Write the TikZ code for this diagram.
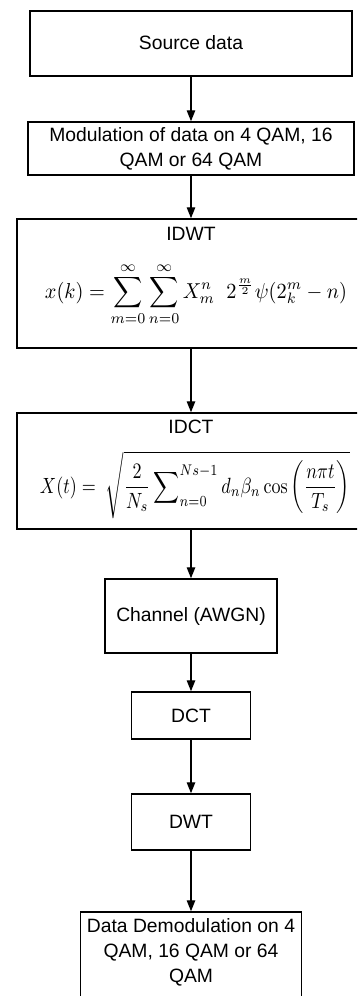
\documentclass[tikz,border=0pt]{standalone}
\usepackage{amsmath}
\usepackage{graphicx}
\usepackage[no-math]{fontspec}
\setmainfont{Liberation Sans}
\usetikzlibrary{arrows.meta}
\tikzset{
  boxstyle/.style={draw=black, line width=1.5pt, fill=white, inner sep=0pt, text=black},
  txt/.style={inner sep=0pt, align=center, font=\fontsize{19.3}{25}\selectfont},
  eqn/.style={inner sep=0pt},
  conn/.style={line width=1.4pt, -{Triangle[width=8.5pt,length=11pt]}}
}
\begin{document}
\begin{tikzpicture}[x=1pt,y=-1pt]
\useasboundingbox (0,0) rectangle (357,996);
\clip (0,0) rectangle (357,996);
\fill[white] (0,0) rectangle (357,996);
% boxes
\node[boxstyle, minimum width=322pt, minimum height=65pt] (src) at (191,43.5) {};
\node[boxstyle, minimum width=326pt, minimum height=53pt] (mod) at (191,148.5) {};
\node[boxstyle, minimum width=348pt, minimum height=129pt] (idwt) at (191,283.5) {};
\node[boxstyle, minimum width=348pt, minimum height=116pt] (idct) at (191,471) {};
\node[boxstyle, minimum width=172pt, minimum height=74pt] (chan) at (191,616) {};
\node[boxstyle, minimum width=119pt, minimum height=47pt] (dct) at (191,715.5) {};
\node[boxstyle, minimum width=119pt, minimum height=56pt] (dwt) at (191,822) {};
\node[boxstyle, minimum width=221pt, minimum height=88pt] (demod) at (191,956) {};
% texts
\node[txt] (srct) at (191,43) {Source data};
\node[txt] (modt) at (191,148.5) {Modulation of data on 4 QAM, 16\\QAM or 64 QAM};
\node[txt, anchor=base] (idwtt) at (191,240) {IDWT};
\node[eqn] (idwte) at (196,294) {\resizebox*{302pt}{63pt}{$\displaystyle x(k) = \sum_{m=0}^{\infty}\sum_{n=0}^{\infty} X_m^n\;\; 2^{\frac{m}{2}}\psi(2_k^m - n)$}};
\node[txt, anchor=base] (idctt) at (191,433) {IDCT};
\node[eqn] (idcte) at (195,485) {\resizebox*{310pt}{67pt}{$\displaystyle X(t) =\ \sqrt{\frac{2}{N_s}\sum\nolimits_{n=0}^{Ns-1} d_n\beta_n\cos\left(\frac{n\pi t}{T_s}\right)}$}};
\node[txt] (chant) at (191,616) {Channel (AWGN)};
\node[txt] (dctt) at (191,715.5) {DCT};
\node[txt] (dwtt) at (191,822) {DWT};
\node[txt, anchor=north] (demodt) at (191,918) {Data Demodulation on 4\\QAM, 16 QAM or 64\\QAM};
% connectors
\draw[conn] (src.south) -- (mod.north);
\draw[conn] (mod.south) -- (idwt.north);
\draw[conn] (idwt.south) -- (idct.north);
\draw[conn] (idct.south) -- (chan.north);
\draw[conn] (chan.south) -- (dct.north);
\draw[conn] (dct.south) -- (dwt.north);
\draw[conn] (dwt.south) -- (demod.north);
\end{tikzpicture}
\end{document}
